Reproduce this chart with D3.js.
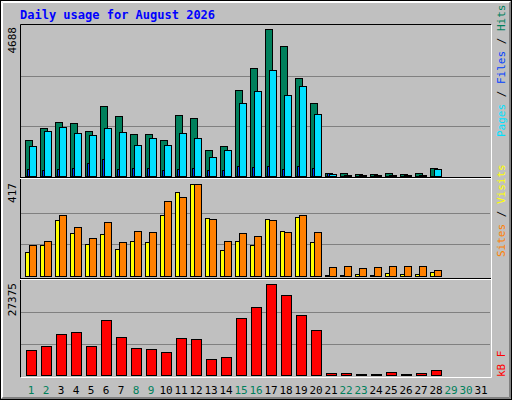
<!DOCTYPE html><html><head><meta charset="utf-8">
<script src="https://cdn.jsdelivr.net/npm/d3@7"></script>
<style>body{margin:0;background:#fff}svg{display:block}</style></head><body>
<script>
const days = d3.range(1,32);
const weekend = [1,2,8,9,15,16,22,23,29,30];
const hits  = [1148,1531,1722,1690,1435,2232,1913,1339,1339,1148,1945,1850,829,957,2743,3444,4688,4146,3125,2328,96,96,64,64,96,64,96,255,0,0,0];
const files = [957,1435,1563,1371,1307,1531,1403,989,1212,989,1371,1212,606,829,2328,2711,3380,2583,2870,1977,53,32,32,32,32,32,32,223,0,0,0];
const pages = [223,191,223,255,415,542,223,255,255,191,223,255,191,191,319,287,319,223,319,255,96,10,10,10,10,10,10,10,0,0,0];
const visits= [110,141,254,196,146,191,123,160,155,277,381,417,263,119,160,141,259,205,268,155,5,6,11,6,15,11,11,20,0,0,0];
const sites = [141,160,277,223,173,245,155,205,200,340,358,417,259,160,196,182,254,200,277,200,42,47,38,42,47,47,47,29,0,0,0];
const kbytes= [7520,8724,12333,12935,8724,16545,11431,8122,7821,6919,11130,10829,4813,5415,17146,20455,27375,24065,18049,13536,602,602,301,301,902,301,602,1504,0,0,0];
const maxTop=4688, maxMid=417, maxBot=27375;

const W=512,H=400;
const svg=d3.select("body").append("svg").attr("width",W).attr("height",H).style("font-family","DejaVu Sans Mono");
svg.append("rect").attr("width",W).attr("height",H).attr("fill","#c0c0c0");
// bevel
svg.append("rect").attr("x",0.5).attr("y",0.5).attr("width",W-1).attr("height",H-1).attr("fill","none").attr("stroke","#000");
svg.append("path").attr("d","M1.5,398.5V1.5H510.5").attr("stroke","#fff").attr("fill","none");
svg.append("path").attr("d","M2.5,397.5V2.5H509.5").attr("stroke","#fff").attr("fill","none");
svg.append("path").attr("d","M2.5,397.5H509.5V2.5").attr("stroke","#808080").attr("fill","none");
svg.append("path").attr("d","M1.5,398.5H510.5V1.5").attr("stroke","#808080").attr("fill","none");

svg.append("text").attr("x",20).attr("y",19).attr("fill","#0000ff").attr("font-weight","bold").attr("font-size",12).text("Daily usage for August 2026");

const x=d3.scaleLinear().domain([1,31]).range([25,475]);
const panels=[{top:26,base:176},{top:181,base:276},{top:281,base:375}];
// grid lines
panels.forEach(p=>{const h=p.base-p.top;[1/3,2/3].forEach(f=>{const yy=Math.round(p.base-h*f*1.0)+0.5;
 svg.append("line").attr("x1",21).attr("x2",490).attr("y1",yy).attr("y2",yy).attr("stroke","#808080");});});
// frame
svg.append("path").attr("d","M20.5,377.5V24.5H491.5").attr("stroke","#000").attr("fill","none");
svg.append("path").attr("d","M20.5,377.5H491.5V24.5").attr("stroke","#fff").attr("fill","none");
[178,279].forEach(yy=>{svg.append("line").attr("x1",20).attr("x2",491).attr("y1",yy-0.5).attr("y2",yy-0.5).attr("stroke","#000");
 svg.append("line").attr("x1",20).attr("x2",491).attr("y1",yy+0.5).attr("y2",yy+0.5).attr("stroke","#fff");});

const yT=d3.scaleLinear().domain([0,maxTop]).range([176,29]);
const yM=d3.scaleLinear().domain([0,maxMid]).range([276,184]);
const yB=d3.scaleLinear().domain([0,maxBot]).range([375,284]);

function bars(data,y,dx,w,color){
 svg.append("g").selectAll("rect").data(data.map((v,i)=>({v,d:i+1})).filter(o=>o.v>0)).join("rect")
  .attr("x",o=>x(o.d)+dx+0.5).attr("y",o=>Math.round(y(o.v))+0.5).attr("width",w)
  .attr("height",o=>Math.max(1,y(0)-Math.round(y(o.v)))).attr("fill",color).attr("stroke","#000");
}
bars(hits,yT,0,7,"#00805c");
bars(files,yT,4,7,"#00e0ff");
bars(pages,yT,2,2,"#0040ff");
bars(visits,yM,0,4,"#ffff00");
bars(sites,yM,4,7,"#ff8000");
bars(kbytes,yB,1,10,"#ff0000");

// x labels
svg.append("g").selectAll("text").data(days).join("text").attr("x",d=>x(d)+6).attr("y",394)
 .attr("text-anchor","middle").attr("font-size",11).attr("fill",d=>weekend.includes(d)?"#00805c":"#000").text(d=>d);

// max labels
function vlabel(xp,yp,txt,anchor){return svg.append("text").attr("transform",`translate(${xp},${yp}) rotate(-90)`).attr("text-anchor",anchor).attr("font-size",11);}
vlabel(16,27,"","end").text(maxTop);
vlabel(16,183,"","end").text(maxMid);
vlabel(16,283,"","end").text(maxBot);
function legend(xp,yp,parts){const t=vlabel(xp,yp,"","start");parts.forEach(([s,c])=>t.append("tspan").attr("fill",c).text(s));}
legend(505,137,[["Pages","#00e0ff"],[" / ","#000"],["Files","#0040ff"],[" / ","#000"],["Hits","#00805c"]]);
legend(505,257,[["Sites","#ff8000"],[" / ","#000"],["Visits","#ffff00"]]);
legend(505,377,[["kB F","#ff0000"]]);
</script></body></html>
